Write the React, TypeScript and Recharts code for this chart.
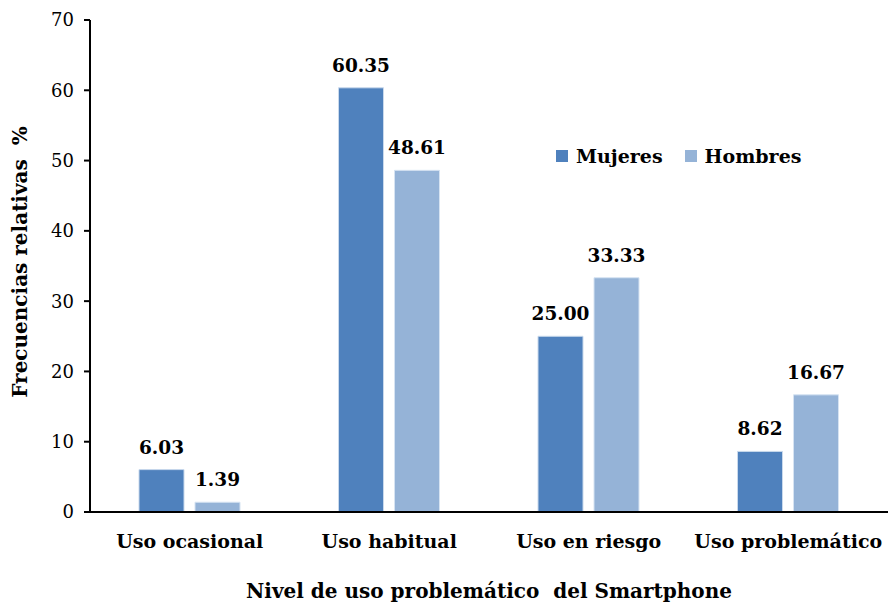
import React from 'react';
import { BarChart, Bar, XAxis, YAxis, LabelList } from 'recharts';

const categories = ['Uso ocasional', 'Uso habitual', 'Uso en riesgo', 'Uso problemático'];
const mujeres = [6.03, 60.35, 25.0, 8.62];
const hombres = [1.39, 48.61, 33.33, 16.67];
const yTicks = [0, 10, 20, 30, 40, 50, 60, 70];
const seriesNames = ['Mujeres', 'Hombres'];
const seriesColors = ['#4F81BD', '#95B3D7'];

const data = categories.map((name, i) => ({ name, mujeres: mujeres[i], hombres: hombres[i] }));

const FONT = '"DejaVu Serif", serif';

function ChartLegend() {
    return (
        <div
            style={{
                position: 'absolute',
                left: 556,
                top: 145,
                display: 'flex',
                gap: 22,
                fontFamily: FONT,
                fontWeight: 'bold',
                fontSize: 19,
                color: '#000',
            }}
        >
            {seriesNames.map((n, i) => (
                <span key={n} style={{ display: 'flex', alignItems: 'center' }}>
                    <span style={{ width: 12, height: 12, background: seriesColors[i], marginRight: 8 }} />
                    {n}
                </span>
            ))}
        </div>
    );
}

export default function App() {
    return (
        <div style={{ position: 'absolute', left: 0, top: 0, width: 888, height: 604, background: '#fff' }}>
            <BarChart
                width={888}
                height={604}
                data={data}
                margin={{ top: 20, right: 0, left: 0, bottom: 0 }}
                barSize={45}
                barGap={11}
            >
                <XAxis
                    dataKey="name"
                    height={92}
                    tickLine={false}
                    tickSize={0}
                    tickMargin={23}
                    axisLine={{ stroke: '#000', strokeWidth: 2 }}
                    tick={{ fill: '#000', fontFamily: FONT, fontWeight: 'bold', fontSize: 19 }}
                    interval={0}
                    label={{
                        value: 'Nivel de uso problemático\u00a0 del Smartphone',
                        position: 'insideBottom',
                        offset: 6,
                        fill: '#000',
                        fontFamily: FONT,
                        fontWeight: 'bold',
                        fontSize: 20,
                    }}
                />
                <YAxis
                    width={90}
                    domain={[0, 70]}
                    ticks={yTicks}
                    tickSize={6}
                    tickMargin={10}
                    axisLine={{ stroke: '#000', strokeWidth: 2 }}
                    tickLine={{ stroke: '#000', strokeWidth: 2 }}
                    tick={{ fill: '#000', fontFamily: FONT, fontSize: 18 }}
                    label={{
                        value: 'Frecuencias relativas\u00a0 %',
                        angle: -90,
                        position: 'insideLeft',
                        offset: 20,
                        dy: -4,
                        style: { textAnchor: 'middle' },
                        fill: '#000',
                        fontFamily: FONT,
                        fontWeight: 'bold',
                        fontSize: 20,
                    }}
                />
                <Bar dataKey="mujeres" name="Mujeres" fill={seriesColors[0]} stroke="#C9D9EC" strokeWidth={1} isAnimationActive={false}>
                    <LabelList
                        dataKey="mujeres"
                        position="top"
                        offset={16}
                        formatter={(v: number) => v.toFixed(2)}
                        style={{ fill: '#000', fontFamily: FONT, fontWeight: 'bold', fontSize: 18.5 }}
                    />
                </Bar>
                <Bar dataKey="hombres" name="Hombres" fill={seriesColors[1]} stroke="#D6E3F2" strokeWidth={1} isAnimationActive={false}>
                    <LabelList
                        dataKey="hombres"
                        position="top"
                        offset={16}
                        formatter={(v: number) => v.toFixed(2)}
                        style={{ fill: '#000', fontFamily: FONT, fontWeight: 'bold', fontSize: 18.5 }}
                    />
                </Bar>
            </BarChart>
            <ChartLegend />
        </div>
    );
}
